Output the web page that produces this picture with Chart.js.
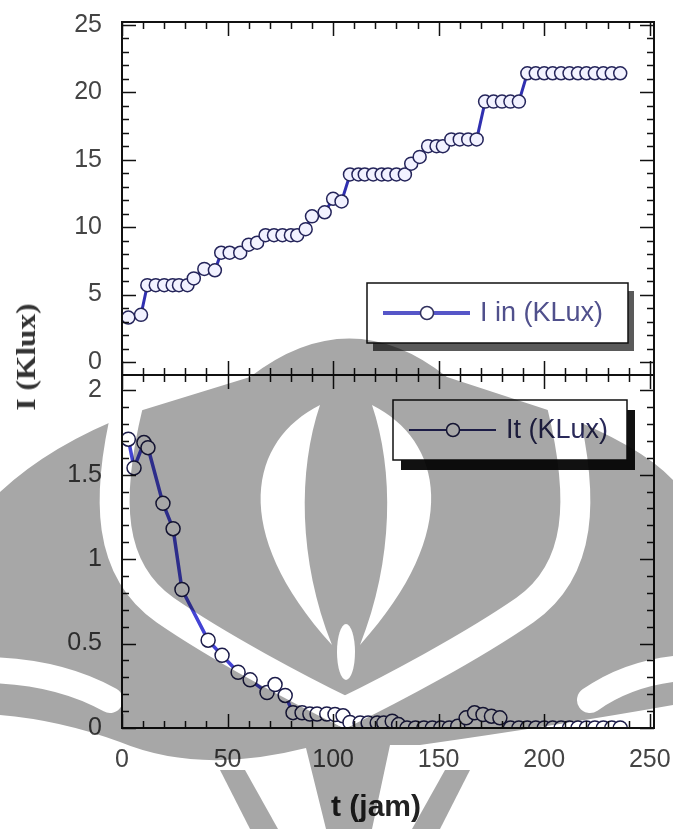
<!DOCTYPE html>
<html>
<head>
<meta charset="utf-8">
<script src="https://cdn.jsdelivr.net/npm/chart.js@4.4.1/dist/chart.umd.min.js"></script>
<style>
  html,body{margin:0;padding:0;background:#fff;}
  #wrap{position:relative;width:673px;height:829px;overflow:hidden;background:#fff;isolation:isolate;}
  canvas{position:absolute;left:0;}
  #ylab{position:absolute;left:26px;top:357px;transform:translate(-50%,-50%) rotate(-90deg) scaleX(1.12);
        font:bold 28px 'Liberation Serif';color:#333;white-space:nowrap;}
  #xlab{position:absolute;left:376px;top:806px;transform:translate(-50%,-50%);
        font:bold 30px 'Liberation Sans';color:#222;white-space:nowrap;}
  #wm{top:0;mix-blend-mode:multiply;pointer-events:none;}
</style>
</head>
<body>
<div id="wrap">
  <canvas id="cTop" width="673" height="400" style="top:0"></canvas>
  <canvas id="cBot" width="673" height="476" style="top:353px"></canvas>
  <div id="ylab">I (Klux)</div>
  <div id="xlab">t (jam)</div>
  <canvas id="wm" width="673" height="829"></canvas>
</div>
<script>
// ---------- data ----------
const inTimes  = [3, 9, 12, 16, 20, 24, 27, 31, 34, 39, 44, 47, 51, 56, 60, 64, 68, 72, 76, 80, 83, 87, 90, 96, 100, 104,
                  108, 112, 115, 119, 123, 126, 130, 134, 137, 141, 145, 149, 152, 156, 160, 164, 168,
                  172, 176, 180, 184, 188, 192, 196, 200, 204, 208, 212, 216, 220, 224, 228, 232, 236];
const inValues = [3.3, 3.5, 5.7, 5.7, 5.7, 5.7, 5.7, 5.7, 6.2, 6.9, 6.8, 8.1, 8.1, 8.1, 8.7, 8.85, 9.4, 9.4, 9.4, 9.4, 9.4,
                  9.85, 10.8, 11.1, 12.1, 11.9, 13.9, 13.9, 13.9, 13.9, 13.9, 13.9, 13.9, 13.9, 14.7, 15.2,
                  16.0, 16.0, 16.0, 16.5, 16.5, 16.5, 16.5, 19.3, 19.3, 19.3, 19.3, 19.3,
                  21.4, 21.4, 21.4, 21.4, 21.4, 21.4, 21.4, 21.4, 21.4, 21.4, 21.4, 21.4];

const itTimes  = [3, 5.7, 10.4, 12.3, 19.4, 24.2, 28.4, 40.8, 47.4, 55, 60.7, 68.7, 72.5, 77.3, 81, 85.3, 89, 92.4, 97,
                  100.9, 104.7, 108, 112.8, 116.6, 120.9, 124, 128, 131, 135, 139, 143, 147, 151, 155, 159,
                  163, 167, 171, 175, 179, 184, 188, 192, 196, 200, 204, 208, 212, 216, 220, 224, 228, 232, 236];
const itValues = [1.71, 1.54, 1.69, 1.66, 1.33, 1.18, 0.82, 0.52, 0.43, 0.33, 0.285, 0.21, 0.257, 0.193, 0.091, 0.09,
                  0.083, 0.083, 0.083, 0.08, 0.072, 0.033, 0.03, 0.03, 0.03, 0.03, 0.04, 0.02, 0, 0, 0, 0, 0, 0, 0.01,
                  0.06, 0.09, 0.08, 0.07, 0.06, 0, 0, 0, 0, 0, 0, 0, 0, 0, 0, 0, 0, 0, 0];

const xTickLabels    = [0, 50, 100, 150, 200, 250];
const topYTickLabels = [0, 5, 10, 15, 20, 25];
const botYTickLabels = [0, 0.5, 1, 1.5, 2];
const seriesNames    = ['I in (KLux)', 'It (KLux)'];

// ---------- helpers ----------
const tickFont = {family: 'Liberation Sans', size: 25};
const tickColor = '#444';

function makeTicks(arr){ return s => { s.ticks = arr.map(v => ({value: v})); }; }
function fixY(s){ s.width = 122; s.paddingTop = 0; s.paddingBottom = 0; s.paddingLeft = 0; s.paddingRight = 0; }
function fixX(h){ return s => { s.height = h; s.paddingLeft = 0; s.paddingRight = 0; s.paddingTop = 0; s.paddingBottom = 0; }; }

function frameTicks(minorX, majorX, minorY, majorY){
  return {
    id: 'frameTicks',
    afterDatasetsDraw(chart){
      const {ctx, chartArea: a, scales: {x, y}} = chart;
      ctx.save();
      ctx.strokeStyle = '#111';
      ctx.lineWidth = 1.5;
      ctx.beginPath();
      for (let v = x.min; v <= x.max + 1e-9; v += minorX){
        const vv = Math.round(v*1000)/1000;
        const px = Math.round(x.getPixelForValue(vv)) + 0.5;
        const len = (Math.abs(vv/majorX - Math.round(vv/majorX)) < 1e-6) ? 14 : 7;
        ctx.moveTo(px, a.bottom); ctx.lineTo(px, a.bottom - len);
        ctx.moveTo(px, a.top); ctx.lineTo(px, a.top + len);
      }
      const start = Math.ceil(y.min/minorY - 1e-9)*minorY;
      for (let v = start; v <= y.max + 1e-9; v += minorY){
        const vv = Math.round(v*1000)/1000;
        const py = Math.round(y.getPixelForValue(vv)) + 0.5;
        const len = (Math.abs(vv/majorY - Math.round(vv/majorY)) < 1e-6) ? 14 : 7;
        ctx.moveTo(a.left, py); ctx.lineTo(a.left + len, py);
        ctx.moveTo(a.right, py); ctx.lineTo(a.right - len, py);
      }
      ctx.stroke();
      ctx.lineWidth = 2;
      ctx.strokeRect(a.left, a.top, a.right - a.left, a.bottom - a.top);
      ctx.restore();
    }
  };
}

function legendBox(box, shadow, shadowColor, lineColor, lineWidth, markerStroke, text, textColor){
  return {
    id: 'legendBox',
    afterDraw(chart){
      const ctx = chart.ctx;
      ctx.save();
      ctx.fillStyle = shadowColor;
      ctx.fillRect(box.x + shadow.dx, box.y + shadow.dy, box.w, box.h);
      ctx.fillStyle = '#fff';
      ctx.fillRect(box.x, box.y, box.w, box.h);
      ctx.strokeStyle = '#111';
      ctx.lineWidth = 1.5;
      ctx.strokeRect(box.x, box.y, box.w, box.h);
      const cy = box.y + box.h/2;
      ctx.strokeStyle = lineColor;
      ctx.lineWidth = lineWidth;
      ctx.beginPath();
      ctx.moveTo(box.x + 16, cy); ctx.lineTo(box.x + 103, cy);
      ctx.stroke();
      ctx.beginPath();
      ctx.arc(box.x + 60, cy, 6.5, 0, Math.PI*2);
      ctx.fillStyle = '#fff';
      ctx.fill();
      ctx.strokeStyle = markerStroke;
      ctx.lineWidth = 1.5;
      ctx.stroke();
      ctx.fillStyle = textColor;
      ctx.font = '27px Liberation Sans';
      ctx.textBaseline = 'middle';
      ctx.fillText(text, box.x + 113, cy + 1);
      ctx.restore();
    }
  };
}

const xScaleBase = {
  type: 'linear', min: 0, max: 252,
  afterBuildTicks: makeTicks(xTickLabels),
  grid: {display: false, drawTicks: false},
  border: {display: false},
};

// ---------- top chart ----------
new Chart(document.getElementById('cTop'), {
  type: 'line',
  data: {
    datasets: [{
      label: seriesNames[0],
      data: inTimes.map((t, i) => ({x: t, y: inValues[i]})),
      borderColor: '#3030b0',
      borderWidth: 3,
      pointRadius: 6.5,
      pointBorderWidth: 1.5,
      pointBorderColor: '#24245a',
      pointBackgroundColor: '#f2f2ff',
      tension: 0,
    }]
  },
  options: {
    responsive: false, animation: false, devicePixelRatio: 1,
    layout: {autoPadding: false, padding: {left: 0, right: 19, top: 22, bottom: 25}},
    plugins: {legend: {display: false}, tooltip: {enabled: false}},
    scales: {
      x: Object.assign({}, xScaleBase, {display: false}),
      y: {
        type: 'linear', min: -0.96, max: 25.2,
        afterBuildTicks: makeTicks(topYTickLabels),
        afterFit: fixY,
        ticks: {font: tickFont, color: tickColor, padding: 20, callback: v => String(v)},
        grid: {display: false, drawTicks: false},
        border: {display: false},
      }
    }
  },
  plugins: [
    frameTicks(10, 50, 1, 5),
    legendBox({x: 367, y: 283, w: 261, h: 60}, {dx: 6, dy: 8}, '#5a5a5a',
              '#5656c8', 4, '#30305e', seriesNames[0], '#50508c')
  ]
});

// ---------- bottom chart ----------
new Chart(document.getElementById('cBot'), {
  type: 'line',
  data: {
    datasets: [{
      label: seriesNames[1],
      data: itTimes.map((t, i) => ({x: t, y: itValues[i]})),
      borderColor: '#4444d4',
      borderWidth: 3.5,
      pointRadius: 7,
      pointBorderWidth: 1.5,
      pointBorderColor: '#1c1c4a',
      pointBackgroundColor: '#ffffff',
      tension: 0,
    }]
  },
  options: {
    responsive: false, animation: false, devicePixelRatio: 1,
    layout: {autoPadding: false, padding: {left: 0, right: 19, top: 22, bottom: 0}},
    plugins: {legend: {display: false}, tooltip: {enabled: false}},
    scales: {
      x: Object.assign({}, xScaleBase, {
        display: true,
        afterFit: fixX(101),
        ticks: {font: tickFont, color: tickColor, padding: 17, maxRotation: 0, callback: v => String(v)},
      }),
      y: {
        type: 'linear', min: 0, max: 2.09,
        afterBuildTicks: makeTicks(botYTickLabels),
        afterFit: fixY,
        ticks: {font: tickFont, color: tickColor, padding: 20, callback: v => String(v)},
        grid: {display: false, drawTicks: false},
        border: {display: false},
      }
    }
  },
  plugins: [
    frameTicks(10, 50, 0.1, 0.5),
    legendBox({x: 393, y: 47, w: 234, h: 60}, {dx: 8, dy: 10}, '#111',
              '#2a2a6a', 2, '#1c1c4a', seriesNames[1], '#2a2a5a')
  ]
});

// ---------- background watermark (decorative logo, multiplied over the page) ----------
(function(){
  const c = document.getElementById('wm').getContext('2d');
  c.fillStyle = '#a7a7a7';
  c.beginPath();
  c.moveTo(0, 492);
  c.quadraticCurveTo(50, 445, 133, 413);
  c.lineTo(250, 377);
  c.quadraticCurveTo(350, 300, 447, 377);
  c.lineTo(557, 413);
  c.quadraticCurveTo(640, 445, 673, 480);
  c.lineTo(673, 705);
  c.quadraticCurveTo(560, 725, 420, 745);
  c.lineTo(390, 745); c.lineTo(372, 829); c.lineTo(326, 829); c.lineTo(306, 748);
  c.quadraticCurveTo(200, 775, 120, 742);
  c.quadraticCurveTo(60, 720, 0, 715);
  c.closePath();
  c.fill();
  c.beginPath();
  c.moveTo(412, 829); c.lineTo(445, 770); c.lineTo(470, 770); c.lineTo(440, 829); c.closePath(); c.fill();
  c.beginPath();
  c.moveTo(278, 829); c.lineTo(245, 770); c.lineTo(220, 770); c.lineTo(250, 829); c.closePath(); c.fill();

  c.globalCompositeOperation = 'destination-out';
  c.fillStyle = '#000'; c.strokeStyle = '#000';
  c.lineCap = 'round';
  c.lineWidth = 30;
  c.beginPath();
  c.moveTo(128, 405);
  c.bezierCurveTo(105, 500, 108, 570, 165, 610);
  c.bezierCurveTo(220, 648, 300, 690, 345, 712);
  c.stroke();
  c.beginPath();
  c.moveTo(562, 405);
  c.bezierCurveTo(585, 500, 582, 570, 525, 610);
  c.bezierCurveTo(470, 648, 390, 690, 345, 712);
  c.stroke();
  c.lineWidth = 26;
  c.beginPath(); c.moveTo(-10, 670); c.quadraticCurveTo(60, 672, 110, 700); c.stroke();
  c.beginPath(); c.moveTo(683, 668); c.quadraticCurveTo(630, 672, 590, 700); c.stroke();
  c.beginPath();
  c.moveTo(320, 405);
  c.bezierCurveTo(250, 440, 228, 530, 332, 645);
  c.bezierCurveTo(298, 560, 298, 470, 320, 405);
  c.fill();
  c.beginPath();
  c.moveTo(372, 405);
  c.bezierCurveTo(442, 440, 464, 530, 360, 645);
  c.bezierCurveTo(394, 560, 394, 470, 372, 405);
  c.fill();
  c.beginPath();
  c.ellipse(346, 652, 9, 28, 0, 0, Math.PI*2);
  c.fill();
})();
</script>
</body>
</html>
